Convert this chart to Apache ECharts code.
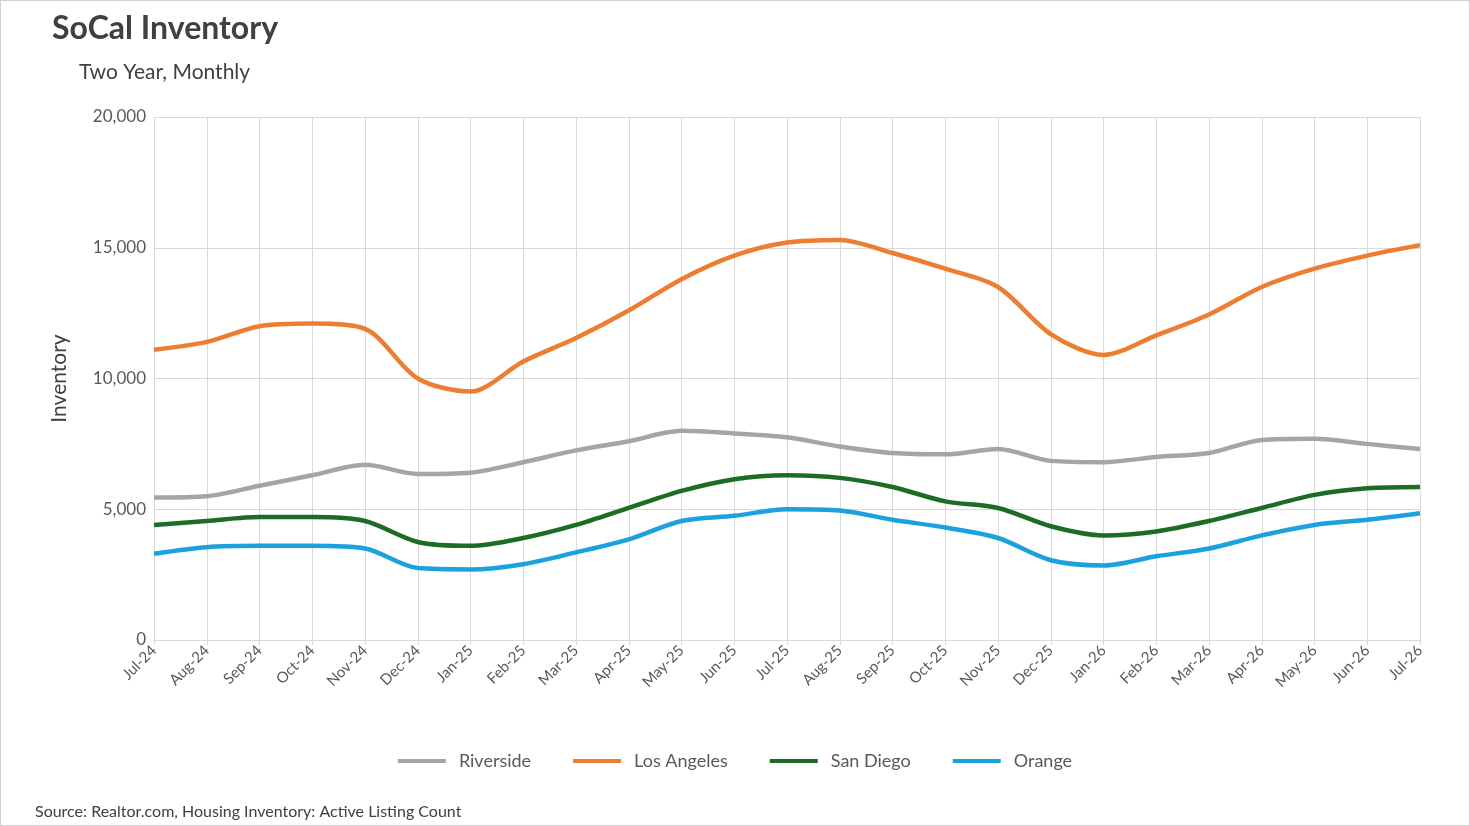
<!DOCTYPE html>
<html><head><meta charset="utf-8">
<script src="https://cdn.jsdelivr.net/npm/echarts@6/dist/echarts.min.js"></script>
<style>html,body{margin:0;padding:0;background:#fff}#c{width:1470px;height:826px;box-sizing:border-box;border:1px solid #d0d0d0}</style>
</head><body><div id="c"></div>
<script>
const months = ["Jul-24","Aug-24","Sep-24","Oct-24","Nov-24","Dec-24","Jan-25","Feb-25","Mar-25","Apr-25","May-25","Jun-25","Jul-25","Aug-25","Sep-25","Oct-25","Nov-25","Dec-25","Jan-26","Feb-26","Mar-26","Apr-26","May-26","Jun-26","Jul-26"];
const riverside = [5450,5500,5900,6300,6700,6350,6400,6800,7250,7600,8000,7900,7750,7400,7150,7100,7300,6850,6800,7000,7150,7650,7700,7500,7300];
const losAngeles = [11100,11400,12000,12100,11900,10000,9500,10650,11550,12600,13800,14700,15200,15300,14800,14200,13500,11700,10900,11650,12450,13500,14200,14700,15100];
const sanDiego = [4400,4550,4700,4700,4550,3750,3600,3900,4400,5050,5700,6150,6300,6200,5850,5300,5050,4350,4000,4150,4550,5050,5550,5800,5850];
const orange = [3300,3550,3600,3600,3500,2750,2700,2900,3350,3850,4550,4750,5000,4950,4600,4300,3900,3050,2850,3200,3500,4000,4400,4600,4850];
const F = "Lato, 'Noto Sans', sans-serif";
const chart = echarts.init(document.getElementById('c'));
const mk = (name, data, color) => ({name, type:'line', data, smooth:0.3, symbol:'none', lineStyle:{width:4.5, color}, itemStyle:{color}});
chart.setOption({
  animation:false,
  textStyle:{fontFamily:F},
  title:[{text:'SoCal Inventory', left:46, top:7, textStyle:{fontSize:32, fontWeight:'bold', color:'#404040', fontFamily:F}},
         {text:'Two Year, Monthly', left:73, top:56, textStyle:{fontSize:21, fontWeight:'normal', color:'#404040', fontFamily:F}},
         {text:'Source: Realtor.com, Housing Inventory: Active Listing Count', left:29, top:798, textStyle:{fontSize:16, fontWeight:'normal', color:'#404040', fontFamily:F}}],
  legend:{bottom:50, left:'center', itemWidth:48, itemHeight:4, itemGap:42, icon:'rect', textStyle:{fontSize:18, color:'#595959', fontFamily:F, padding:[0,0,0,8]}},
  grid:{left:153, right:49, top:116, bottom:185},
  xAxis:{type:'category', boundaryGap:false, data:months,
    axisLine:{lineStyle:{color:'#d9d9d9'}}, axisTick:{show:true, lineStyle:{color:'#d9d9d9'}},
    splitLine:{show:true, lineStyle:{color:'#d9d9d9'}},
    axisLabel:{rotate:45, color:'#595959', fontSize:15, margin:8}},
  yAxis:{type:'value', min:0, max:20000, interval:5000, name:'Inventory', nameLocation:'middle', nameGap:84,
    nameTextStyle:{fontSize:21, color:'#404040'},
    axisLine:{show:false}, axisTick:{show:false},
    splitLine:{lineStyle:{color:'#d9d9d9'}},
    axisLabel:{color:'#595959', fontSize:17, formatter:v=>v.toLocaleString('en-US')}},
  series:[mk('Riverside',riverside,'#a5a5a5'), mk('Los Angeles',losAngeles,'#ed7d31'), mk('San Diego',sanDiego,'#1e6b24'), mk('Orange',orange,'#1ba1dc')]
});
</script></body></html>
